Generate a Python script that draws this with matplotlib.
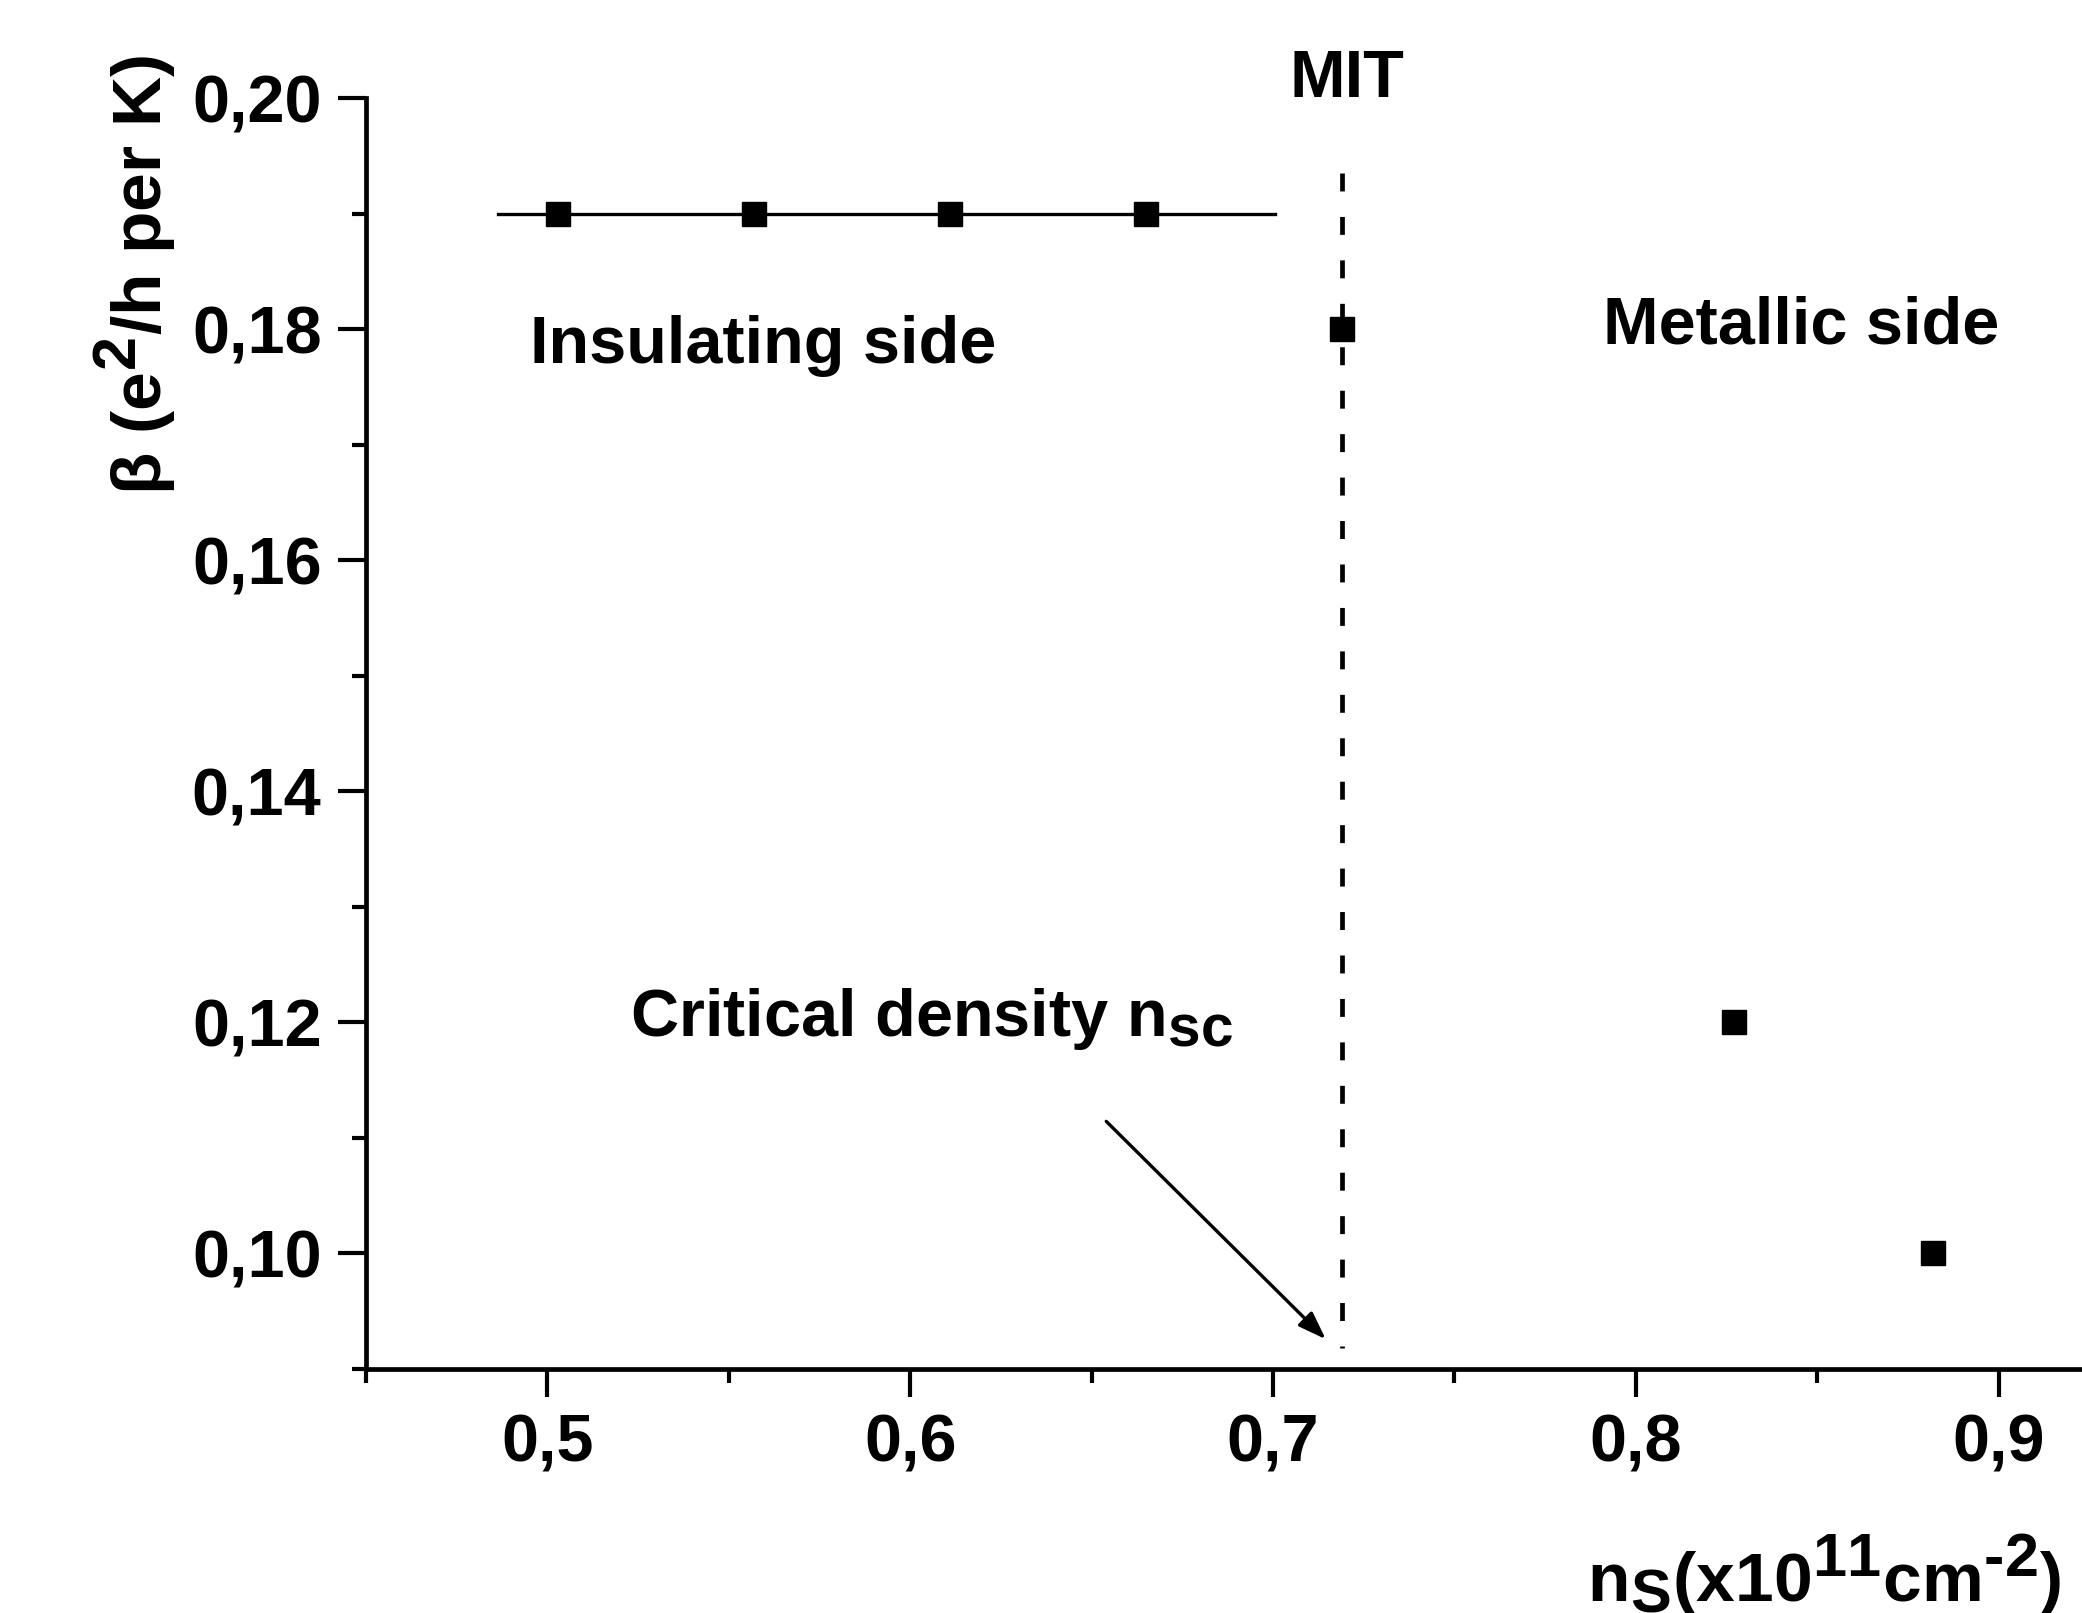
import matplotlib
matplotlib.use('Agg')
import matplotlib.pyplot as plt
import matplotlib._mathtext as mt
from matplotlib.ticker import MultipleLocator, FuncFormatter

# sub/superscripts in the original are nearly full size
mt.SHRINK_FACTOR = 0.88

plt.rcParams['font.family'] = 'Liberation Sans'
plt.rcParams['font.weight'] = 'bold'
plt.rcParams['mathtext.fontset'] = 'custom'
plt.rcParams['mathtext.rm'] = 'Liberation Sans:bold'
plt.rcParams['mathtext.bf'] = 'Liberation Sans:bold'
plt.rcParams['mathtext.it'] = 'Liberation Sans:bold'

# data
ns = [0.503, 0.557, 0.611, 0.665, 0.719, 0.827, 0.882]
beta = [0.19, 0.19, 0.19, 0.19, 0.18, 0.12, 0.10]

# insulating-side plateau and critical density
plateau_x = [0.4865, 0.7005]
plateau_y = [0.19, 0.19]
n_c = 0.719
mit_y = [0.1935, 0.0918]

fig = plt.figure(figsize=(20.82, 16.13), dpi=100)
ax = fig.add_axes([0.1758, 0.1513, 0.8242, 0.7879])

ax.plot(plateau_x, plateau_y, color='black', lw=2.4)
ax.plot([n_c, n_c], mit_y, color='black', lw=3.4, dashes=(3.8, 5.4))
ax.plot(ns, beta, 's', color='black', ms=17)

ax.annotate('', xy=(0.7151, 0.0924), xytext=(0.6535, 0.1116),
            arrowprops=dict(arrowstyle='-|>,head_length=1.7,head_width=0.6',
                            color='black', lw=2.4))

ax.set_xlim(0.45, 0.923)
ax.set_ylim(0.09, 0.20)

ax.xaxis.set_major_locator(MultipleLocator(0.1))
ax.xaxis.set_minor_locator(MultipleLocator(0.05))
ax.yaxis.set_major_locator(MultipleLocator(0.02))
ax.yaxis.set_minor_locator(MultipleLocator(0.01))
ax.xaxis.set_major_formatter(FuncFormatter(lambda v, p: f'{v:.1f}'.replace('.', ',')))
ax.yaxis.set_major_formatter(FuncFormatter(lambda v, p: f'{v:.2f}'.replace('.', ',')))

ax.tick_params(which='major', direction='out', length=20, width=3, labelsize=48, pad=12)
ax.tick_params(which='minor', direction='out', length=10, width=3)
for lab in ax.get_xticklabels() + ax.get_yticklabels():
    lab.set_fontweight('bold')

for s in ['top', 'right']:
    ax.spines[s].set_visible(False)
for s in ['left', 'bottom']:
    ax.spines[s].set_linewidth(3.4)

ax.text(0.7203, 0.2001, 'MIT', fontsize=48, fontweight='bold', ha='center', va='baseline')
ax.text(0.4953, 0.1771, 'Insulating side', fontsize=48, fontweight='bold', ha='left', va='baseline')
ax.text(0.7911, 0.1788, 'Metallic side', fontsize=48, fontweight='bold', ha='left', va='baseline')
ax.text(0.5229, 0.1188, r'Critical density n$_{\mathbf{sc}}$', fontsize=48, fontweight='bold',
        ha='left', va='baseline')

fig.text(135 / 2082, 1 - 275 / 1613, r'$\beta$ (e$^{\mathbf{2}}$/h per K)', fontsize=50,
         fontweight='bold', rotation=90, ha='center', va='center')
fig.text(2062 / 2082, 1 - 1602 / 1613, r'n$_{\mathbf{S}}$(x10$^{\mathbf{11}}$cm$^{\text{-2}}$)',
         fontsize=50, fontweight='bold', ha='right', va='baseline')

fig.savefig('out.png', dpi=100)
